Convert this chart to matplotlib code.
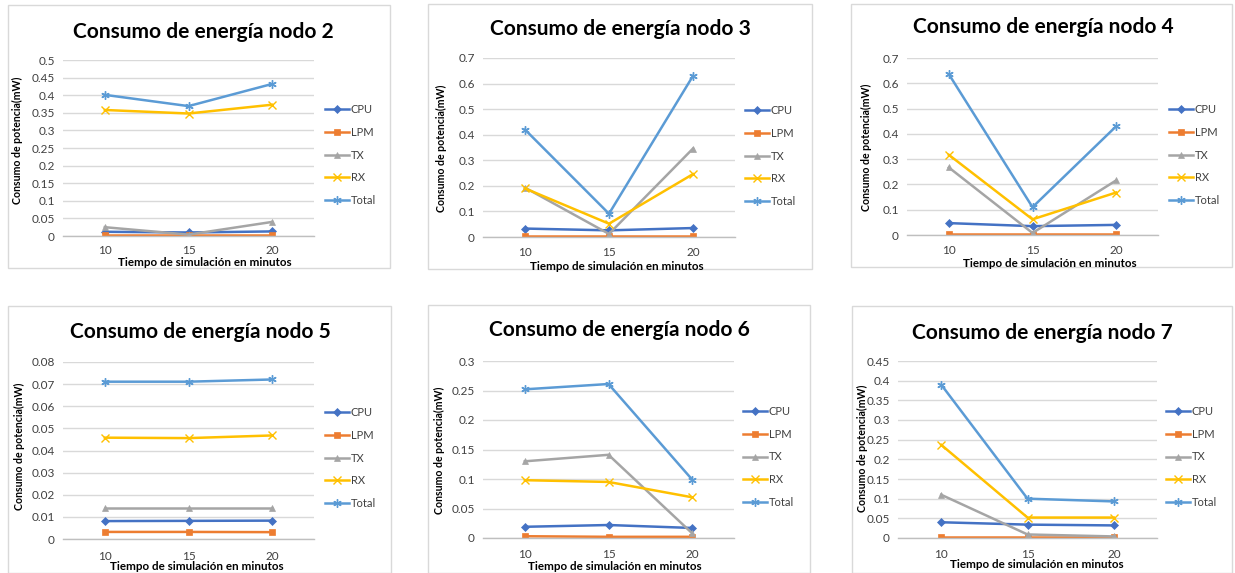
import matplotlib
matplotlib.use("Agg")
import matplotlib.pyplot as plt
from matplotlib.patches import Rectangle

plt.rcParams['font.family'] = ['Lato', 'DejaVu Sans']

W, H = 1235, 573

categories = ["10", "15", "20"]
series_names = ["CPU", "LPM", "TX", "RX", "Total"]
colors = ["#4472C4", "#ED7D31", "#A5A5A5", "#FFC000", "#5B9BD5"]
markers = ["D", "s", "^", "x", (6, 2, 0)]

nodes = ["2", "3", "4", "5", "6", "7"]

cpu_n2 = [0.012, 0.010, 0.013]
lpm_n2 = [0.002, 0.002, 0.002]
tx_n2 = [0.025, 0.004, 0.040]
rx_n2 = [0.358, 0.348, 0.373]
total_n2 = [0.401, 0.369, 0.432]

cpu_n3 = [0.033, 0.026, 0.035]
lpm_n3 = [0.002, 0.002, 0.002]
tx_n3 = [0.193, 0.012, 0.346]
rx_n3 = [0.190, 0.052, 0.246]
total_n3 = [0.420, 0.091, 0.630]

cpu_n4 = [0.047, 0.035, 0.040]
lpm_n4 = [0.002, 0.002, 0.002]
tx_n4 = [0.267, 0.008, 0.216]
rx_n4 = [0.317, 0.062, 0.168]
total_n4 = [0.636, 0.110, 0.430]

cpu_n5 = [0.0081, 0.0082, 0.0083]
lpm_n5 = [0.0032, 0.0032, 0.0031]
tx_n5 = [0.0139, 0.0139, 0.0139]
rx_n5 = [0.0458, 0.0456, 0.0468]
total_n5 = [0.0711, 0.0711, 0.0721]

cpu_n6 = [0.019, 0.022, 0.017]
lpm_n6 = [0.003, 0.002, 0.002]
tx_n6 = [0.130, 0.141, 0.008]
rx_n6 = [0.098, 0.095, 0.069]
total_n6 = [0.252, 0.261, 0.099]

cpu_n7 = [0.040, 0.034, 0.032]
lpm_n7 = [0.002, 0.002, 0.002]
tx_n7 = [0.110, 0.009, 0.004]
rx_n7 = [0.237, 0.052, 0.052]
total_n7 = [0.390, 0.100, 0.093]

node_data = [
    [cpu_n2, lpm_n2, tx_n2, rx_n2, total_n2],
    [cpu_n3, lpm_n3, tx_n3, rx_n3, total_n3],
    [cpu_n4, lpm_n4, tx_n4, rx_n4, total_n4],
    [cpu_n5, lpm_n5, tx_n5, rx_n5, total_n5],
    [cpu_n6, lpm_n6, tx_n6, rx_n6, total_n6],
    [cpu_n7, lpm_n7, tx_n7, rx_n7, total_n7],
]

yticks_list = [
    [0, 0.05, 0.1, 0.15, 0.2, 0.25, 0.3, 0.35, 0.4, 0.45, 0.5],
    [0, 0.1, 0.2, 0.3, 0.4, 0.5, 0.6, 0.7],
    [0, 0.1, 0.2, 0.3, 0.4, 0.5, 0.6, 0.7],
    [0, 0.01, 0.02, 0.03, 0.04, 0.05, 0.06, 0.07, 0.08],
    [0, 0.05, 0.1, 0.15, 0.2, 0.25, 0.3],
    [0, 0.05, 0.1, 0.15, 0.2, 0.25, 0.3, 0.35, 0.4, 0.45],
]

# layout (pixels): border box, plot box, title pos, legend pos, label positions
layout = [
    dict(border=(8, 5, 390, 268), plot=(63, 60, 314, 236), title=(203, 32),
         leg=(325, 155), ylab=(17, 140), xlab=(205, 262), tick_y=251),
    dict(border=(428, 4, 812, 269), plot=(483, 58, 735, 237), title=(620, 29),
         leg=(745, 156), ylab=(441, 148), xlab=(617, 266), tick_y=252),
    dict(border=(851, 4, 1232, 267), plot=(907, 58, 1158, 235), title=(1043, 27),
         leg=(1169, 155), ylab=(866, 147), xlab=(1050, 263), tick_y=251),
    dict(border=(8, 306, 391, 573), plot=(63, 362, 314, 539), title=(200, 332),
         leg=(325, 458), ylab=(19, 446), xlab=(197, 567), tick_y=556),
    dict(border=(428, 305, 810, 573), plot=(483, 361, 734, 538), title=(619, 330),
         leg=(743, 457), ylab=(439, 450), xlab=(615, 567), tick_y=555),
    dict(border=(852, 306, 1232, 573), plot=(898, 361, 1157, 538), title=(1042, 333),
         leg=(1166, 457), ylab=(862, 448), xlab=(1037, 565), tick_y=555),
]

fig = plt.figure(figsize=(W / 100, H / 100), dpi=100)
fig.patch.set_facecolor("white")


def fx(x):
    return x / W


def fy(y):
    return 1 - y / H


for i, (node, data, yt, lay) in enumerate(zip(nodes, node_data, yticks_list, layout)):
    bx0, by0, bx1, by1 = lay["border"]
    fig.patches.append(Rectangle((fx(bx0), fy(by1)), fx(bx1 - bx0), (by1 - by0) / H,
                                 transform=fig.transFigure, fill=False,
                                 edgecolor="#D9D9D9", linewidth=1.0))
    px0, py0, px1, py1 = lay["plot"]
    ax = fig.add_axes([fx(px0), fy(py1), fx(px1 - px0), (py1 - py0) / H])
    xs = list(range(len(categories)))
    for name, vals, c, m in zip(series_names, data, colors, markers):
        ms = 5 if m in ("D", "s", "^") else 6
        if m == "D":
            ms = 4.5
        ax.plot(xs, vals, color=c, marker=m, markersize=ms, linewidth=1.8,
                markeredgewidth=1.0 if m in ("x",) or isinstance(m, tuple) else 0.5,
                label=name)
    ax.set_xlim(-0.5, len(categories) - 0.5)
    ax.set_ylim(yt[0], yt[-1])
    ax.set_yticks(yt)
    ax.set_yticklabels([f"{v:g}" for v in yt])
    ax.set_xticks(xs)
    ax.set_xticklabels([])
    for spine in ["top", "right", "left"]:
        ax.spines[spine].set_visible(False)
    ax.spines["bottom"].set_color("#BFBFBF")
    ax.spines["bottom"].set_linewidth(1.0)
    ax.grid(axis="y", color="#D9D9D9", linewidth=1.0)
    ax.set_axisbelow(True)
    ax.tick_params(axis="both", length=0, labelsize=8.5, labelcolor="#404040", pad=6)
    # category labels placed in figure coordinates below axis
    for xv, lab in zip(xs, categories):
        xpix = px0 + (xv + 0.5) / len(categories) * (px1 - px0)
        fig.text(fx(xpix), fy(lay["tick_y"]), lab, ha="center", va="center",
                 fontsize=8.5, color="#404040")
    tx, ty = lay["title"]
    fig.text(fx(tx), fy(ty), f"Consumo de energía nodo {node}", ha="center", va="center",
             fontsize=15, fontweight="bold", color="black")
    ylx, yly = lay["ylab"]
    fig.text(fx(ylx), fy(yly), "Consumo de potencia(mW)", ha="center", va="center",
             rotation=90, fontsize=7.6, fontweight="bold", color="black")
    xlx, xly = lay["xlab"]
    fig.text(fx(xlx), fy(xly), "Tiempo de simulación en minutos", ha="center", va="center",
             fontsize=8.4, fontweight="bold", color="black")
    lgx, lgy = lay["leg"]
    ax.legend(loc="center left", bbox_to_anchor=(fx(lgx), fy(lgy)),
              bbox_transform=fig.transFigure, frameon=False, fontsize=8,
              handlelength=2.2, handletextpad=0.1, labelspacing=1.05,
              borderaxespad=0, borderpad=0, labelcolor="#404040")

fig.savefig("out.png", dpi=100, facecolor="white")
